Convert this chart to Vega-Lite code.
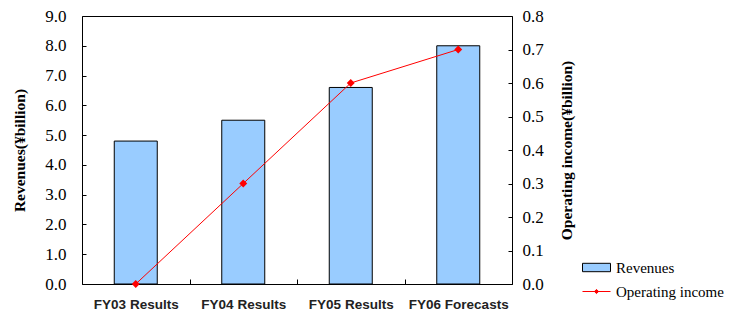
{
  "$schema": "https://vega.github.io/schema/vega-lite/v6.json",
  "width": 430,
  "height": 268,
  "autosize": {"type": "none"},
  "padding": {"left": 82, "top": 16, "right": 217, "bottom": 30},
  "background": "white",
  "config": {
    "view": {"stroke": "black", "strokeWidth": 1},
    "axis": {"grid": false, "domain": false, "tickColor": "black", "labelColor": "black", "titleColor": "black"}
  },
  "data": {
    "values": [
      {"period": "FY03 Results", "revenues": 4.8, "income": 0.0},
      {"period": "FY04 Results", "revenues": 5.5, "income": 0.3},
      {"period": "FY05 Results", "revenues": 6.6, "income": 0.6},
      {"period": "FY06 Forecasts", "revenues": 8.0, "income": 0.7}
    ]
  },
  "encoding": {
    "x": {
      "field": "period", "type": "nominal", "sort": null,
      "scale": {"paddingInner": 0, "paddingOuter": 0},
      "axis": {
        "title": null, "labelAngle": 0, "labelFont": "Liberation Sans", "labelFontSize": 13.5,
        "labelFontWeight": "bold", "labelColor": "#222", "tickBand": "extent", "tickSize": -5,
        "labelPadding": 18
      }
    }
  },
  "layer": [
    {
      "mark": {"type": "bar", "width": {"band": 0.4}, "stroke": "black", "strokeWidth": 1},
      "encoding": {
        "y": {
          "field": "revenues", "type": "quantitative",
          "scale": {"domain": [0, 9], "nice": false},
          "axis": {
            "title": "Revenues(¥billion)", "values": [0,1,2,3,4,5,6,7,8,9], "format": ".1f",
            "labelFont": "Liberation Serif", "labelFontSize": 17, "tickSize": -4, "labelPadding": 20,
            "titleFont": "Liberation Serif", "titleFontSize": 15.5, "titleFontWeight": "bold", "titlePadding": 17
          }
        },
        "fill": {
          "datum": "Revenues", "type": "nominal",
          "scale": {"range": ["#99CCFF"]},
          "legend": {
            "title": null, "orient": "none", "legendX": 500, "legendY": 237, "padding": 0,
            "symbolType": "M-1,-0.3L1,-0.3L1,0.3L-1,0.3Z", "symbolSize": 784,
            "symbolStrokeColor": "black", "symbolStrokeWidth": 1, "symbolFillColor": "#99CCFF",
            "labelFont": "Liberation Serif", "labelFontSize": 15, "labelOffset": 5, "labelColor": "black", "labelLimit": 200
          }
        }
      }
    },
    {
      "mark": {"type": "line", "strokeWidth": 1, "point": {"filled": true, "shape": "diamond", "size": 26, "color": "#FF0000"}},
      "encoding": {
        "y": {
          "field": "income", "type": "quantitative",
          "scale": {"domain": [0, 0.8], "nice": false},
          "axis": {
            "orient": "right", "title": "Operating income(¥billion)",
            "values": [0,0.1,0.2,0.3,0.4,0.5,0.6,0.7,0.8], "format": ".1f",
            "labelFont": "Liberation Serif", "labelFontSize": 17, "tickSize": -4, "labelPadding": 14,
            "titleFont": "Liberation Serif", "titleFontSize": 15.5, "titleFontWeight": "bold", "titlePadding": 31,
            "titleAngle": 270
          }
        },
        "stroke": {
          "datum": "Operating income", "type": "nominal",
          "scale": {"range": ["#FF0000"]},
          "legend": {
            "title": null, "orient": "none", "legendX": 500, "legendY": 261, "padding": 0,
            "symbolType": "M-1,0L1,0M0,-0.15L0.15,0L0,0.15L-0.15,0Z", "symbolSize": 784,
            "symbolStrokeColor": "#FF0000", "symbolFillColor": "#FF0000", "symbolStrokeWidth": 1,
            "labelFont": "Liberation Serif", "labelFontSize": 15, "labelOffset": 5, "labelColor": "black", "labelLimit": 200
          }
        }
      }
    }
  ],
  "resolve": {"scale": {"y": "independent", "fill": "independent", "stroke": "independent"}}
}
